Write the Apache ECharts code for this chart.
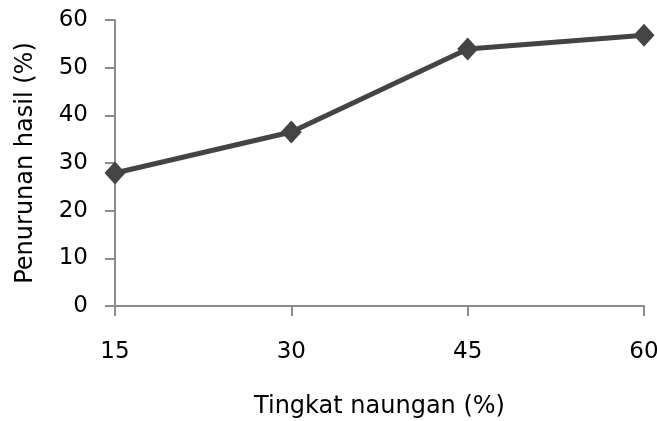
<!DOCTYPE html>
<html>
<head>
<meta charset="utf-8">
<script src="https://cdn.jsdelivr.net/npm/echarts@6/dist/echarts.min.js"></script>
<style>
  html, body { margin: 0; padding: 0; background: #fff; }
  #chart { width: 657px; height: 421px; }
</style>
</head>
<body>
<div id="chart"></div>
<script>
// Shading level (%) and the resulting yield reduction (%)
const shadeLevels = ['15', '30', '45', '60'];
const yieldDrop = [27.9, 36.5, 53.9, 56.8];
const yTicks = { min: 0, max: 60, step: 10 };

const font = 'Tahoma, Verdana, "DejaVu Sans", sans-serif';
const axisGrey = '#8c8c8c';
const lineColor = '#444444';

const chart = echarts.init(document.getElementById('chart'), null, { renderer: 'canvas' });
chart.setOption({
  animation: false,
  backgroundColor: '#ffffff',
  grid: { left: 115, right: 13, top: 20, bottom: 115, containLabel: false, outerBoundsMode: 'none' },
  xAxis: {
    type: 'category',
    data: shadeLevels,
    boundaryGap: false,
    name: 'Tingkat naungan (%)',
    nameLocation: 'middle',
    nameGap: 89,
    nameTextStyle: { fontFamily: font, fontSize: 24, color: '#000' },
    axisLine: { lineStyle: { color: axisGrey, width: 2 } },
    axisTick: { show: true, length: 10, alignWithLabel: true, lineStyle: { color: axisGrey, width: 2 } },
    axisLabel: { fontFamily: font, fontSize: 23, color: '#000', margin: 35 },
    splitLine: { show: false }
  },
  yAxis: {
    type: 'value',
    min: yTicks.min,
    max: yTicks.max,
    interval: yTicks.step,
    name: 'Penurunan hasil (%)',
    nameLocation: 'middle',
    nameGap: 77,
    nameTextStyle: { fontFamily: font, fontSize: 24, color: '#000' },
    axisLine: { show: true, lineStyle: { color: axisGrey, width: 2 } },
    axisTick: { show: true, length: 10, lineStyle: { color: axisGrey, width: 2 } },
    axisLabel: { fontFamily: font, fontSize: 23, color: '#000', margin: 27 },
    splitLine: { show: false }
  },
  series: [{
    type: 'line',
    data: yieldDrop,
    symbol: 'diamond',
    symbolSize: [21, 23],
    lineStyle: { color: lineColor, width: 5 },
    itemStyle: { color: lineColor },
    clip: false
  }]
});
</script>
</body>
</html>
